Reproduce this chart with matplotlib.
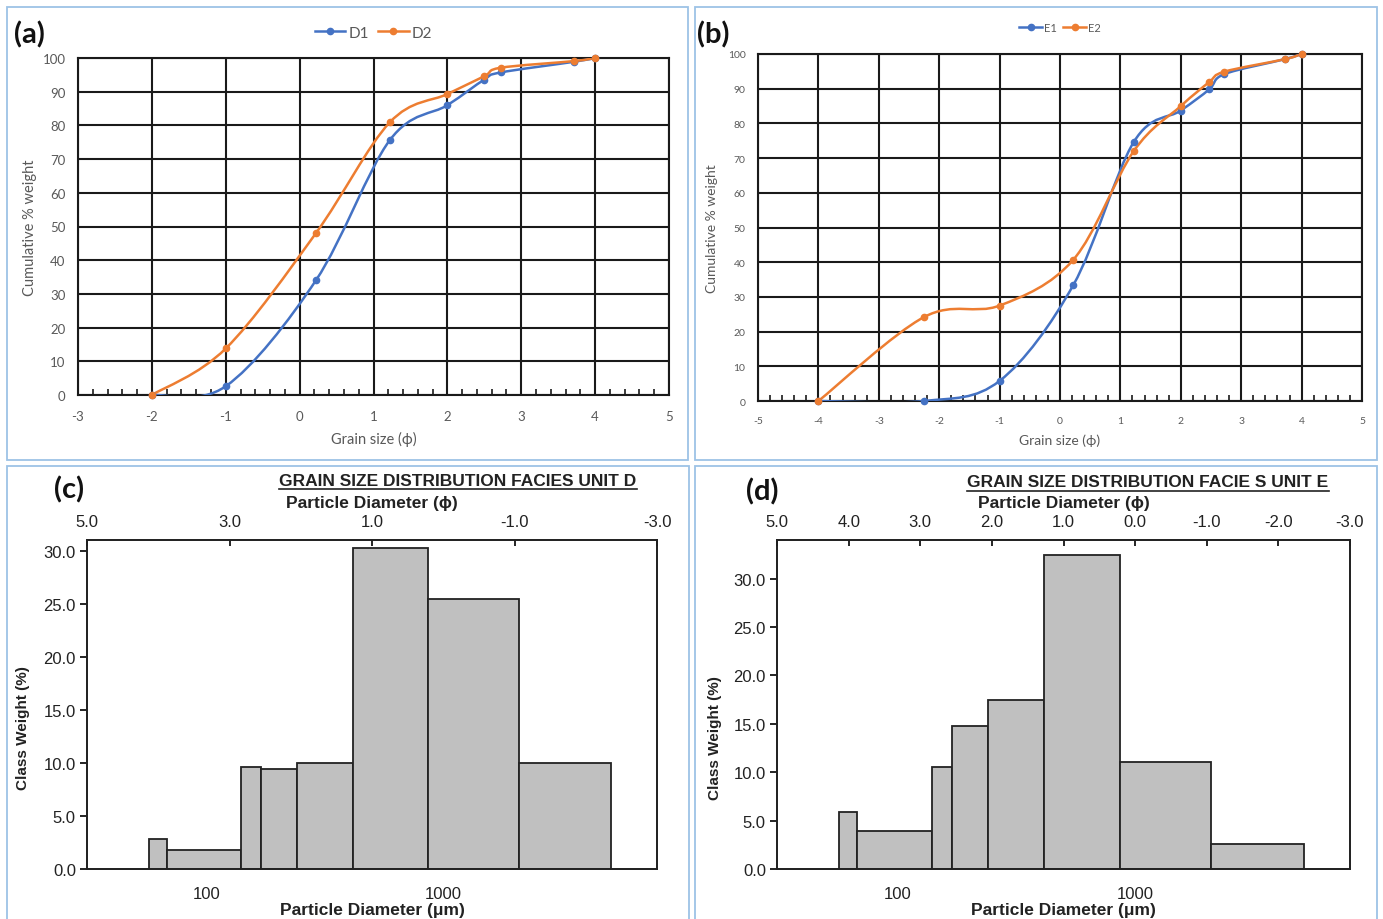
import numpy as np
import matplotlib.pyplot as plt
from matplotlib.path import Path
from matplotlib.patches import PathPatch, Rectangle
from matplotlib.lines import Line2D
from matplotlib.ticker import MultipleLocator, NullLocator

plt.rcParams['axes.unicode_minus'] = False

W, H = 1383, 920

BLUE = '#4472C4'
ORANGE = '#ED7D31'
GREY_TXT = '#595959'
XL_FONT = ['Lato', 'DejaVu Sans']
AR_FONT = ['Liberation Sans', 'DejaVu Sans']

# ---- (a) cumulative curves, facies unit D
d_phi = [-2, -1, 0.22, 1.22, 2, 2.5, 2.72, 3.72, 4]
d1_cum = [0, 2.6, 34, 75.6, 86, 93.6, 95.7, 98.9, 100]
d2_cum = [0, 13.8, 48, 80.9, 89.3, 94.6, 97.1, 99.1, 100]

# ---- (b) cumulative curves, facies unit E
e_phi = [-4, -2.25, -1, 0.22, 1.22, 2, 2.47, 2.72, 3.72, 4]
e1_cum = [0, 0, 5.8, 33.4, 74.6, 83.7, 89.8, 94.2, 98.5, 100]
e2_cum = [0, 24.2, 27.5, 40.7, 72, 85, 91.9, 94.9, 98.5, 100]

# ---- (c)/(d) class weight histograms, sieve edges in um
edges_um = [57, 68, 140, 170, 240, 415, 860, 2080, 5130]
unit_d_w = [2.8, 1.8, 9.6, 9.4, 10.0, 30.2, 25.4, 10.0]
unit_e_w = [5.85, 3.9, 10.5, 14.8, 17.5, 32.4, 11.1, 2.55]

phi_ticks_c = [5, 3, 1, -1, -3]
phi_ticks_d = [5, 4, 3, 2, 1, 0, -1, -2, -3]
um_ticks = [100, 1000]
PHI_MAX, PHI_MIN = 5, -3


def fbox(l, r, t, b):
    return [l / W, 1 - b / H, (r - l) / W, (b - t) / H]


def phi_to_um(phi):
    return 1000 * 2.0 ** (-phi)


def smooth_path(xs, ys):
    # excel style smoothed line: bezier through the points
    p = np.column_stack([xs, ys]).astype(float)
    n = len(p)
    verts = [p[0]]
    codes = [Path.MOVETO]
    for i in range(n - 1):
        prev = p[i - 1] if i > 0 else p[i]
        nxt = p[i + 2] if i + 2 < n else p[i + 1]
        c1 = p[i] + (p[i + 1] - prev) / 6
        c2 = p[i + 1] - (nxt - p[i]) / 6
        verts += [c1, c2, p[i + 1]]
        codes += [Path.CURVE4] * 3
    return Path(verts, codes)


def cumulative(ax, xs, series, names, xmin, fs_tick, fs_lab, fs_leg, ypad, legpad):
    handles = []
    for ys, col, name in zip(series, (BLUE, ORANGE), names):
        ax.add_patch(PathPatch(smooth_path(xs, ys), fill=False,
                               edgecolor=col, lw=1.8, zorder=3))
        ax.plot(xs, ys, 'o', color=col, ms=4.5, zorder=4, clip_on=False)
        handles.append(Line2D([], [], color=col, lw=1.8, marker='o', ms=4.5))
    ax.set_xlim(xmin, 5)
    ax.set_ylim(0, 100)
    ax.set_xticks(range(xmin, 6))
    ax.set_yticks(range(0, 101, 10))
    ax.xaxis.set_minor_locator(MultipleLocator(0.2))
    ax.grid(True, color='#1a1a1a', lw=1.5)
    ax.set_axisbelow(True)
    for s in ax.spines.values():
        s.set_color('#1a1a1a')
        s.set_linewidth(1.5)
    ax.tick_params(which='major', length=0, labelsize=fs_tick,
                   labelcolor=GREY_TXT)
    ax.tick_params(axis='x', which='major', pad=11)
    ax.tick_params(axis='y', which='major', pad=9)
    ax.tick_params(axis='x', which='minor', direction='in', length=4,
                   width=1.2, color='#1a1a1a')
    for lab in ax.get_xticklabels() + ax.get_yticklabels():
        lab.set_family(XL_FONT)
    ax.set_xlabel('Grain size (ϕ)', color=GREY_TXT, fontsize=fs_lab,
                  family=XL_FONT, labelpad=6)
    ax.set_ylabel('Cumulative % weight', color=GREY_TXT, fontsize=fs_lab,
                  family=XL_FONT, labelpad=ypad)
    ax.legend(handles, names, loc='lower center', bbox_to_anchor=(0.5, 1.0),
              ncol=2, frameon=False, handlelength=2.0, columnspacing=0.6,
              handletextpad=0.2, borderaxespad=legpad,
              prop={'family': XL_FONT, 'size': fs_leg},
              labelcolor=GREY_TXT)


def histogram(ax, weights, ymax, phi_ticks, ylab_x, ylab_y):
    widths = np.diff(edges_um)
    ax.bar(edges_um[:-1], weights, width=widths, align='edge',
           color='#c0c0c0', edgecolor='#222222', lw=1.3)
    ax.set_xscale('log')
    ax.set_xlim(phi_to_um(PHI_MAX), phi_to_um(PHI_MIN))
    ax.set_ylim(0, ymax)
    ax.set_xticks(um_ticks)
    ax.set_xticklabels([str(t) for t in um_ticks])
    ax.xaxis.set_minor_locator(NullLocator())
    ax.set_yticks(np.arange(0, 31, 5))
    ax.set_yticklabels(['%.1f' % v for v in np.arange(0, 31, 5)])
    for s in ax.spines.values():
        s.set_color('#222222')
        s.set_linewidth(1.3)
    ax.tick_params(axis='x', length=0, pad=12, labelsize=12)
    ax.tick_params(axis='y', length=5, width=1.2, labelsize=12, pad=3)
    for lab in ax.get_xticklabels() + ax.get_yticklabels():
        lab.set_family(AR_FONT)
        lab.set_color('#222222')
    ax.set_xlabel('Particle Diameter (μm)', fontsize=12.5, fontweight='bold',
                  family=AR_FONT, labelpad=1, color='#222222')
    ax.set_ylabel('Class Weight (%)', fontsize=11, fontweight='bold',
                  family=AR_FONT, color='#222222')
    ax.yaxis.set_label_coords(ylab_x, ylab_y)

    # phi scale on top: phi is linear in log(d), so a linear twin matches
    top = ax.twiny()
    top.set_xlim(PHI_MAX, PHI_MIN)
    top.set_xticks(phi_ticks)
    top.set_xticklabels(['%.1f' % v for v in phi_ticks])
    top.xaxis.set_minor_locator(NullLocator())
    top.tick_params(axis='x', direction='in', length=4, width=1.2,
                    labelsize=12, pad=8)
    for lab in top.get_xticklabels():
        lab.set_family(AR_FONT)
        lab.set_color('#222222')
    for s in top.spines.values():
        s.set_color('#222222')
        s.set_linewidth(1.3)
    top.set_xlabel('Particle Diameter (ϕ)', fontsize=12.5, fontweight='bold',
                   family=AR_FONT, labelpad=5, color='#222222')


fig = plt.figure(figsize=(W / 100, H / 100), dpi=100)

# panel frames
for l, r, t, b in [(7, 688, 8, 461), (695, 1377, 8, 461),
                   (7, 689, 467, 925), (695, 1377, 467, 925)]:
    fig.add_artist(Rectangle((l / W, 1 - b / H), (r - l) / W, (b - t) / H,
                             transform=fig.transFigure, fill=False,
                             edgecolor='#9DC3E6', lw=1.3))

ax_a = fig.add_axes(fbox(78, 669, 59, 396))
cumulative(ax_a, d_phi, [d1_cum, d2_cum], ['D1', 'D2'], -3, 9.5, 10.5, 11, 4, 0.8)

ax_b = fig.add_axes(fbox(758, 1362, 55, 402))
cumulative(ax_b, e_phi, [e1_cum, e2_cum], ['E1', 'E2'], -5, 7.5, 10, 8, 7, 1.5)

ax_c = fig.add_axes(fbox(87, 657, 541, 870))
histogram(ax_c, unit_d_w, 31, phi_ticks_c, -0.100, 0.43)

ax_d = fig.add_axes(fbox(777, 1350, 541, 870))
histogram(ax_d, unit_e_w, 34, phi_ticks_d, -0.096, 0.40)

# panel letters
for s, x, y in [('(a)', 14, 35), ('(b)', 697, 35), ('(c)', 54, 490), ('(d)', 746, 492)]:
    fig.text(x / W, 1 - y / H, s, fontsize=21, fontweight='bold',
             family=XL_FONT, va='center', ha='left', color='#111111')

titles = []
for s, x, y in [('GRAIN SIZE DISTRIBUTION FACIES UNIT D', 458, 481),
                ('GRAIN SIZE DISTRIBUTION FACIE S UNIT E', 1148, 483)]:
    titles.append(fig.text(x / W, 1 - y / H, s, fontsize=12.5,
                           fontweight='bold', family=AR_FONT, ha='center',
                           va='center', color='#222222'))

fig.canvas.draw()
rend = fig.canvas.get_renderer()
for t in titles:
    bb = t.get_window_extent(rend)
    yl = (bb.y0 - 1) / H
    fig.add_artist(Line2D([bb.x0 / W, bb.x1 / W], [yl, yl],
                          transform=fig.transFigure, color='#222222', lw=1.2))

fig.savefig('out.png', dpi=100)
